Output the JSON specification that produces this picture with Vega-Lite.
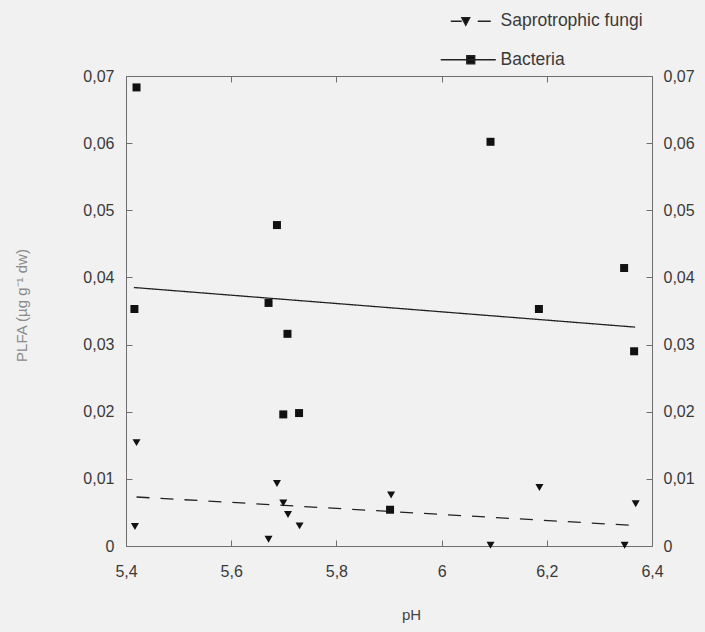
{
  "$schema": "https://vega.github.io/schema/vega-lite/v6.json",
  "autosize": {"type": "none"},
  "padding": {"left": 126, "top": 76, "right": 53, "bottom": 86},
  "width": 526,
  "height": 470,
  "background": "#f1f1f1",
  "config": {
    "view": {"stroke": null},
    "font": "Liberation Sans",
    "axis": {
      "grid": false,
      "domainColor": "#6e6e6e",
      "domainWidth": 1,
      "tickColor": "#6e6e6e",
      "tickWidth": 1,
      "tickSize": -6,
      "labelFont": "Liberation Sans",
      "labelFontSize": 16,
      "labelColor": "#3a3a3a",
      "titleFont": "Liberation Sans",
      "titleFontWeight": "normal"
    }
  },
  "datasets": {
    "points": [
      {"group": "Bacteria", "pH": 5.420, "plfa": 0.0683},
      {"group": "Bacteria", "pH": 5.416, "plfa": 0.0353},
      {"group": "Bacteria", "pH": 5.687, "plfa": 0.0478},
      {"group": "Bacteria", "pH": 5.671, "plfa": 0.0362},
      {"group": "Bacteria", "pH": 5.707, "plfa": 0.0316},
      {"group": "Bacteria", "pH": 5.699, "plfa": 0.0196},
      {"group": "Bacteria", "pH": 5.729, "plfa": 0.0198},
      {"group": "Bacteria", "pH": 5.902, "plfa": 0.0054},
      {"group": "Bacteria", "pH": 6.093, "plfa": 0.0602},
      {"group": "Bacteria", "pH": 6.185, "plfa": 0.0353},
      {"group": "Bacteria", "pH": 6.347, "plfa": 0.0414},
      {"group": "Bacteria", "pH": 6.366, "plfa": 0.0290},
      {"group": "Saprotrophic fungi", "pH": 5.420, "plfa": 0.0154},
      {"group": "Saprotrophic fungi", "pH": 5.417, "plfa": 0.0029},
      {"group": "Saprotrophic fungi", "pH": 5.687, "plfa": 0.0093},
      {"group": "Saprotrophic fungi", "pH": 5.699, "plfa": 0.0064},
      {"group": "Saprotrophic fungi", "pH": 5.708, "plfa": 0.0047},
      {"group": "Saprotrophic fungi", "pH": 5.730, "plfa": 0.0030},
      {"group": "Saprotrophic fungi", "pH": 5.671, "plfa": 0.0010},
      {"group": "Saprotrophic fungi", "pH": 5.904, "plfa": 0.0076},
      {"group": "Saprotrophic fungi", "pH": 6.186, "plfa": 0.0087},
      {"group": "Saprotrophic fungi", "pH": 6.093, "plfa": 0.0001},
      {"group": "Saprotrophic fungi", "pH": 6.348, "plfa": 0.0001},
      {"group": "Saprotrophic fungi", "pH": 6.369, "plfa": 0.0063}
    ],
    "trends": [
      {"group": "Bacteria", "pH": 5.415, "plfa": 0.0385},
      {"group": "Bacteria", "pH": 6.368, "plfa": 0.0326},
      {"group": "Saprotrophic fungi", "pH": 5.420, "plfa": 0.0073},
      {"group": "Saprotrophic fungi", "pH": 6.356, "plfa": 0.0031}
    ]
  },
  "layer": [
    {
      "data": {"name": "trends"},
      "mark": {"type": "line", "color": "#222222", "strokeWidth": 1.3},
      "encoding": {
        "x": {
          "field": "pH", "type": "quantitative",
          "scale": {"domain": [5.4, 6.4], "nice": false, "zero": false},
          "axis": {"orient": "top", "values": [5.4, 5.6, 5.8, 6.0, 6.2, 6.4], "labels": false, "title": null}
        },
        "y": {
          "field": "plfa", "type": "quantitative",
          "scale": {"domain": [0, 0.07], "nice": false},
          "axis": {
            "orient": "right", "values": [0, 0.01, 0.02, 0.03, 0.04, 0.05, 0.06, 0.07],
            "labelExpr": "replace(format(datum.value, '~g'), '.', ',')",
            "labelPadding": 17, "title": null
          }
        },
        "detail": {"field": "group"},
        "strokeDash": {
          "field": "group", "type": "nominal",
          "scale": {"domain": ["Bacteria", "Saprotrophic fungi"], "range": [[1, 0], [13, 11]]},
          "legend": null
        }
      }
    },
    {
      "data": {"name": "points"},
      "mark": {"type": "point", "filled": true, "color": "#111111", "opacity": 1, "size": 64},
      "encoding": {
        "x": {
          "field": "pH", "type": "quantitative",
          "scale": {"domain": [5.4, 6.4], "nice": false, "zero": false},
          "axis": {
            "orient": "bottom", "values": [5.4, 5.6, 5.8, 6.0, 6.2, 6.4],
            "labelExpr": "replace(format(datum.value, '~g'), '.', ',')",
            "labelPadding": 23, "labelFlush": false,
            "title": "pH", "titleFontSize": 15, "titleColor": "#444444",
            "titleX": 285, "titleY": 68, "titleBaseline": "middle", "titleAlign": "center"
          }
        },
        "y": {
          "field": "plfa", "type": "quantitative",
          "scale": {"domain": [0, 0.07], "nice": false},
          "axis": {
            "orient": "left", "values": [0, 0.01, 0.02, 0.03, 0.04, 0.05, 0.06, 0.07],
            "labelExpr": "replace(format(datum.value, '~g'), '.', ',')",
            "labelPadding": 18, "labelFlush": false,
            "title": "PLFA (µg g⁻¹ dw)", "titleFontSize": 15, "titleColor": "#8a8a8a",
            "titleX": -105, "titleY": 229, "titleAngle": -90, "titleAlign": "center", "titleBaseline": "middle"
          }
        },
        "shape": {
          "field": "group", "type": "nominal",
          "scale": {"domain": ["Saprotrophic fungi", "Bacteria"], "range": ["triangle-down", "square"]},
          "legend": null
        }
      }
    },
    {
      "data": {"name": "trends"},
      "mark": {"type": "point", "filled": false, "opacity": 0, "stroke": "#222222", "strokeWidth": 1.3, "size": 64},
      "encoding": {
        "shape": {
          "field": "group", "type": "nominal",
          "scale": {
            "domain": ["Saprotrophic fungi", "Bacteria"],
            "range": [
              "M-3.25,0H-0.5M3.5,0H6.75M-0.5,-0.9L1.5,-0.9L0.5,1Z",
              "M-5.75,0H8M0.75,-1H2.75V1H0.75Z"
            ]
          },
          "legend": {
            "title": null,
            "orient": "none",
            "legendX": 329,
            "legendY": -63.5,
            "direction": "vertical",
            "padding": 0,
            "symbolSize": 64,
            "symbolOpacity": 1,
            "symbolFillColor": "#111111",
            "symbolStrokeColor": "#222222",
            "symbolStrokeWidth": 1.3,
            "labelFontSize": 17.5,
            "labelColor": "#3a3a3a",
            "labelOffset": 28,
            "rowPadding": 19.5,
            "encoding": {
              "symbols": {
                "fill": {"value": "#111111"},
                "stroke": {"value": "#222222"},
                "strokeWidth": {"value": 1.3},
                "opacity": {"value": 1}
              }
            }
          }
        }
      }
    }
  ],
  "resolve": {
    "axis": {"x": "independent", "y": "independent"},
    "scale": {"shape": "independent"}
  }
}
